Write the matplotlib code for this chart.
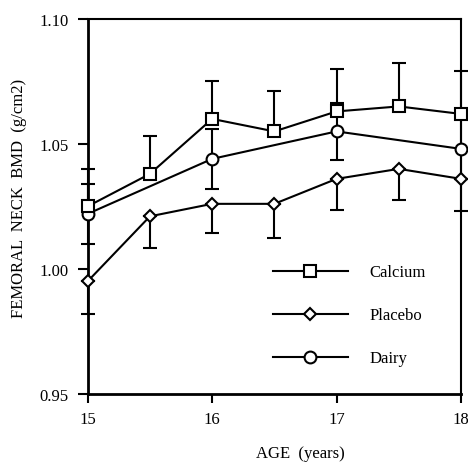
import matplotlib
matplotlib.use("Agg")
import matplotlib.pyplot as plt
import numpy as np

# ---- data ----
ages = [15, 15.5, 16, 16.5, 17, 17.5, 18]
calcium = [1.025, 1.038, 1.060, 1.055, 1.063, 1.065, 1.062]
calcium_err = [0.015, 0.015, 0.015, 0.016, 0.017, 0.0175, 0.017]
placebo = [0.995, 1.021, 1.026, 1.026, 1.036, 1.040, 1.036]
placebo_err = [0.013, 0.0125, 0.0115, 0.0135, 0.0126, 0.0125, 0.0127]
ages_dairy = [15, 16, 17, 18]
dairy = [1.022, 1.044, 1.055, 1.048]
dairy_err = [0.012, 0.012, 0.0115, 0.012]

xticks = [15, 16, 17, 18]
yticks = [0.95, 1.00, 1.05, 1.10]
ytick_labels = ["0.95", "1.00", "1.05", "1.10"]

plt.rcParams['font.family'] = ['Liberation Serif', 'DejaVu Serif']

fig = plt.figure(figsize=(4.68, 4.64), dpi=100)
ax = fig.add_axes([0.1874, 0.1494, 0.7976, 0.8075])

ebkw = dict(fmt='none', ecolor='black', elinewidth=1.5, capsize=4.7, capthick=1.5, zorder=2, clip_on=False)
ax.errorbar(ages, calcium, yerr=[np.zeros(len(ages)), calcium_err], **ebkw)
ax.errorbar(ages, placebo, yerr=[placebo_err, np.zeros(len(ages))], **ebkw)
ax.errorbar(ages_dairy, dairy, yerr=dairy_err, **ebkw)

lkw = dict(color='black', lw=1.5, markerfacecolor='white', markeredgecolor='black', markeredgewidth=1.5, clip_on=False)
ax.plot(ages, placebo, marker='D', ms=6, label='Placebo', zorder=3, **lkw)
ax.plot(ages_dairy, dairy, marker='o', ms=8.5, label='Dairy', zorder=4, **lkw)
ax.plot(ages, calcium, marker='s', ms=8, label='Calcium', zorder=5, **lkw)

ax.set_xlim(15, 18)
ax.set_ylim(0.95, 1.10)
ax.set_xticks(xticks)
ax.set_xticklabels([str(t) for t in xticks])
ax.set_yticks(yticks)
ax.set_yticklabels(ytick_labels)
ax.tick_params(axis='y', direction='out', length=7, width=1.5, pad=6.5, labelsize=12)
ax.tick_params(axis='x', direction='out', length=6.5, width=1.5, pad=6, labelsize=12)

for s in ['left', 'bottom']:
    ax.spines[s].set_linewidth(2.0)
for s in ['top', 'right']:
    ax.spines[s].set_linewidth(1.5)

ax.set_ylabel("FEMORAL  NECK  BMD  (g/cm2)", fontsize=12)
ax.yaxis.set_label_coords(-0.163, 0.523)
fig.text(300/468, 1 - 462/464, "AGE  (years)", fontsize=12, ha='center', va='bottom')

h, l = ax.get_legend_handles_labels()
order = [2, 0, 1]
ax.legend([h[i] for i in order], [l[i] for i in order], frameon=False, fontsize=12,
          handlelength=4.5, handletextpad=1.3, labelspacing=1.62,
          loc='upper left', bbox_to_anchor=(0.455, 0.385))

fig.savefig("out.png", dpi=100)
